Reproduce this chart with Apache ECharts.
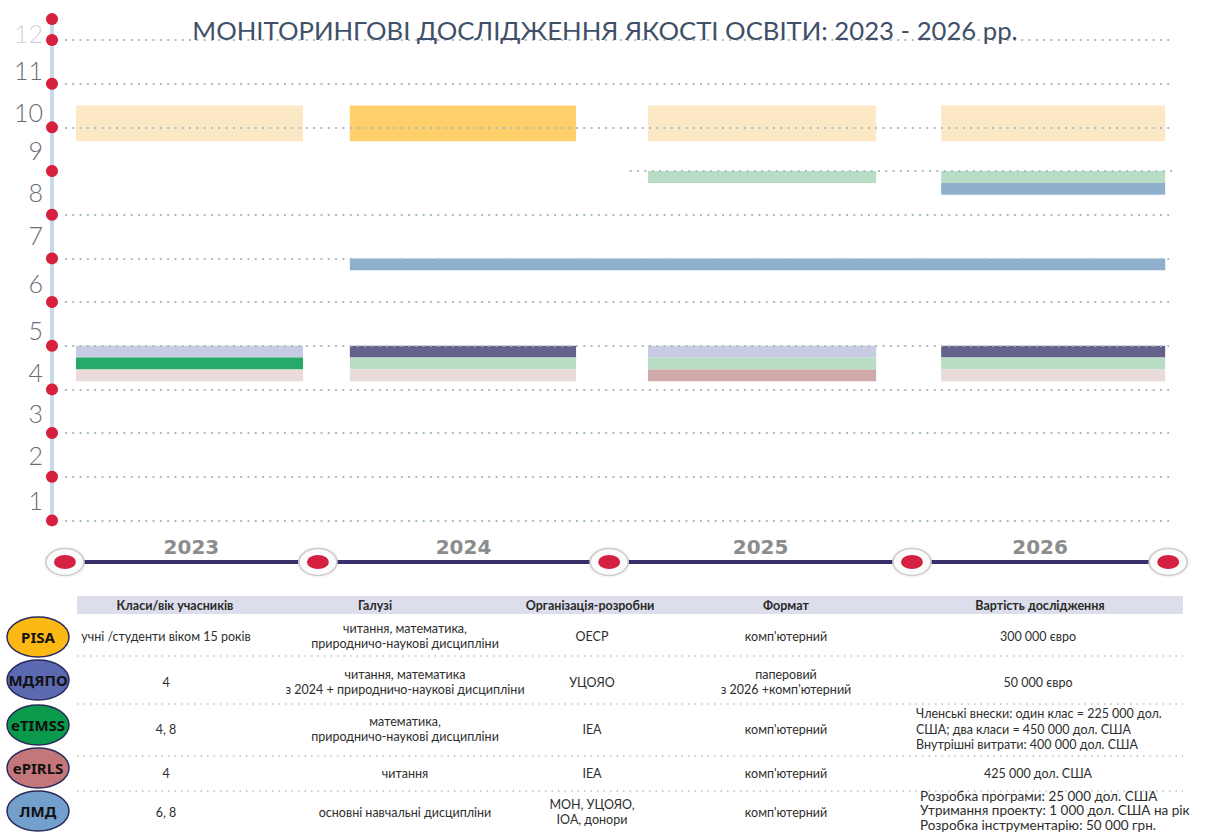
<!DOCTYPE html>
<html><head><meta charset="utf-8">
<script src="https://cdn.jsdelivr.net/npm/echarts@6/dist/echarts.min.js"></script>
<style>html,body{margin:0;padding:0;background:#fff}#c{width:1210px;height:834px}</style>
</head><body><div id="c"></div>
<script>
// ---------------- DATA ----------------
const TITLE = 'МОНІТОРИНГОВІ ДОСЛІДЖЕННЯ ЯКОСТІ ОСВІТИ: 2023 - 2026 рр.';
const years = ['2023', '2024', '2025', '2026'];
// assessment period in each year (fractional years)
const periodStart = [2023.04, 2024.034, 2025.116, 2026.18];
const periodEnd   = [2023.864, 2024.855, 2025.944, 2026.993];
// year boundaries on the timeline as drawn
const milestones = [2023.0, 2023.918, 2024.975, 2026.074, 2027.004];

const gradeLabels   = ['1', '2', '3', '4', '5', '6', '7', '8', '9', '10', '11', '12'];
const gradeLabelPos = [0.46, 1.5, 2.46, 3.4, 4.36, 5.44, 6.54, 7.52, 8.48, 9.35, 10.31, 11.16];
const gridLevels    = [0, 1, 2, 3, 4, 5, 6, 7, 8, 9, 10, 11];
const gridFrom      = [2023, 2023, 2023, 2023, 2023, 2023, 2023, 2023, 2025.05, 2023, 2023, 2023];
const axisDots      = [0, 1, 2, 3, 4, 5, 6, 7, 8, 9, 10, 11, 11.48];

const studies = ['PISA', 'МДЯПО', 'eTIMSS', 'ePIRLS', 'ЛМД'];
// phase per year: 2 = conducted, 1 = preparation / other, 0 = none
const pisaGrade     = 9.5;             // 15-year-olds
const pisaPhase     = [1, 2, 1, 1];
const mdyapoPhase   = [1, 2, 1, 2];    // grade 4
const etimss4Phase  = [2, 1, 1, 1];    // grade 4
const etimss8Phase  = [0, 0, 1, 1];    // grade 8
const epirlsPhase   = [1, 1, 2, 1];    // grade 4
const lmd8Phase     = [0, 0, 0, 2];    // grade 8
const lmd6From = '2024', lmd6To = '2026'; // grade 6, continuous

// table
const tableHeaders = ['Класи/вік учасників', 'Галузі', 'Організація-розробни', 'Формат', 'Вартість дослідження'];
const colGrades = ['учні /студенти віком 15 років', '4', '4, 8', '4', '6, 8'];
const colFields = [
  'читання, математика,\nприродничо-наукові дисципліни',
  'читання, математика\nз 2024 + природничо-наукові дисципліни',
  'математика,\nприродничо-наукові дисципліни',
  'читання',
  'основні навчальні дисципліни'
];
const colOrgs = ['ОЕСР', 'УЦОЯО', 'IEA', 'IEA', 'МОН, УЦОЯО,\nІОА, донори'];
const colFormat = ['комп\'ютерний', 'паперовий\nз 2026 +комп\'ютерний', 'комп\'ютерний', 'комп\'ютерний', 'комп\'ютерний'];
const colCost = [
  '300 000 євро',
  '50 000 євро',
  'Членські внески: один клас = 225 000 дол.\nСША; два класи = 450 000 дол. США\nВнутрішні витрати: 400 000 дол. США',
  '425 000 дол. США',
  'Розробка програми: 25 000 дол. США\nУтримання проекту: 1 000 дол. США на рік\nРозробка інструментарію: 50 000 грн.'
];

// ---------------- STYLE ----------------
const strong = { 'PISA': '#fecf6a', 'МДЯПО': '#64618a', 'eTIMSS': '#27a96a', 'ePIRLS': '#cfa8a9', 'ЛМД': '#8fb0cd' };
const light  = { 'PISA': '#fde8c5', 'МДЯПО': '#c8cbe4', 'eTIMSS': '#b9dcc5', 'ePIRLS': '#ebdada', 'ЛМД': '#c9d9e8' };
const badge  = { 'PISA': '#fdb913', 'МДЯПО': '#5b69b1', 'eTIMSS': '#0a9a4b', 'ePIRLS': '#c4777a', 'ЛМД': '#729fcb' };
const FONT = 'Lato, "Open Sans", sans-serif';
const X_MIN = 2022.953, X_MAX = 2027.025;
const SLOT = 0.272;

// ---------------- BUILD ----------------
const barItems = [];
function addRow(study, grade, slot, span, phases) {
  phases.forEach((ph, i) => {
    if (!ph) return;
    barItems.push({
      value: [periodStart[i], periodEnd[i], grade - slot * SLOT, grade - (slot + span) * SLOT],
      itemStyle: { color: ph === 2 ? strong[study] : light[study] }
    });
  });
}
addRow('PISA', pisaGrade, 0, 3, pisaPhase);
addRow('МДЯПО', 4, 0, 1, mdyapoPhase);
addRow('eTIMSS', 4, 1, 1, etimss4Phase);
addRow('ePIRLS', 4, 2, 1, epirlsPhase);
addRow('eTIMSS', 8, 0, 1, etimss8Phase);
addRow('ЛМД', 8, 1, 1, lmd8Phase);
barItems.push({
  value: [periodStart[years.indexOf(lmd6From)], periodEnd[years.indexOf(lmd6To)], 6, 6 - SLOT],
  itemStyle: { color: strong['ЛМД'] }
});

function renderBar(params, api) {
  const p0 = api.coord([api.value(0), api.value(2)]);
  const p1 = api.coord([api.value(1), api.value(3)]);
  return {
    type: 'rect',
    shape: { x: p0[0], y: p0[1], width: p1[0] - p0[0], height: p1[1] - p0[1] },
    style: { fill: api.visual('color') }
  };
}

function renderGradeLabel(params, api) {
  const p = api.coord([X_MIN, api.value(1)]);
  const txt = gradeLabels[params.dataIndex];
  return {
    type: 'text', x: p[0] - 9, y: p[1],
    style: {
      text: txt, fill: txt === '12' ? '#d2d3dd' : '#6b6c74',
      fontSize: 25, fontFamily: FONT, fontWeight: 300,
      align: 'right', verticalAlign: 'middle'
    }
  };
}

const yearMid = years.map((y, i) => [(milestones[i] + milestones[i + 1]) / 2, 0.5]);
function renderYear(params, api) {
  const p = api.coord([api.value(0), api.value(1)]);
  return {
    type: 'text', x: p[0], y: p[1] - 15,
    style: {
      text: years[params.dataIndex], fill: '#8c8c8c',
      fontSize: 20, fontWeight: 'bold', fontFamily: '"DejaVu Sans", sans-serif',
      align: 'center', verticalAlign: 'middle'
    }
  };
}

const ELLIPSE = 'path://M0,10A10,10,0,1,1,20,10A10,10,0,1,1,0,10Z';

// ---------------- TABLE (graphic) ----------------
const colX = [166, 405, 592, 786, 1038];
const headerX = [175, 375, 590, 786, 1040];
const rowY = [636, 682, 729, 773, 812];
const badgeY = [637, 680, 725, 768, 811];
const sepY = [656, 704, 756, 791];
const graphics = [];
graphics.push({ type: 'rect', shape: { x: 77, y: 596, width: 1106, height: 18 }, style: { fill: '#dcdfeb' }, silent: true });
tableHeaders.forEach((h, i) => graphics.push({
  type: 'text', x: headerX[i], y: 605,
  style: { text: h, fill: '#2a2a2a', fontSize: 12.5, fontWeight: 'bold', fontFamily: FONT, align: 'center', verticalAlign: 'middle' }
}));
sepY.forEach(y => graphics.push({
  type: 'line', shape: { x1: 77, y1: y, x2: 1183, y2: y },
  style: { stroke: '#b3c3c6', lineWidth: 1.5, lineDash: [1.5, 5] }
}));
const cols = [colGrades, colFields, colOrgs, colFormat, colCost];
cols.forEach((col, ci) => col.forEach((t, ri) => {
  const multi = ci === 4 && t.split('\n').length > 2;
  const big = multi && ri === col.length - 1;
  graphics.push({
    type: 'text', x: multi ? (big ? 920 : 916) : colX[ci], y: rowY[ri] + (big ? -2 : 0),
    style: {
      text: t, fill: '#2e2e2e', fontSize: big ? 13.5 : 12.5, fontFamily: FONT, lineHeight: big ? 14.5 : 15.5,
      align: multi ? 'left' : 'center', verticalAlign: 'middle'
    }
  });
}));
studies.forEach((s, i) => {
  graphics.push({
    type: 'ellipse', shape: { cx: 38, cy: badgeY[i], rx: 31, ry: 20 },
    style: { fill: badge[s], stroke: '#2b2a5c', lineWidth: 1.5 }
  });
  graphics.push({
    type: 'text', x: 38, y: badgeY[i],
    style: { text: s, fill: '#111', fontSize: 15, fontWeight: 'bold', fontFamily: '"Noto Sans", sans-serif', align: 'center', verticalAlign: 'middle' }
  });
});

// ---------------- OPTION ----------------
const option = {
  animation: false,
  backgroundColor: '#ffffff',
  textStyle: { fontFamily: FONT },
  title: {
    text: TITLE, left: 'center', top: 12,
    textStyle: { color: '#3f5068', fontSize: 25.7, fontWeight: 'normal', fontFamily: FONT }
  },
  grid: [
    { left: 52, right: 36, top: 18.2, bottom: 313.6 },
    { left: 52, right: 36, top: 532, height: 60 }
  ],
  xAxis: [
    { type: 'value', gridIndex: 0, min: X_MIN, max: X_MAX, show: false },
    { type: 'value', gridIndex: 1, min: X_MIN, max: X_MAX, show: false }
  ],
  yAxis: [
    {
      type: 'value', gridIndex: 0, min: 0, max: 11.5,
      axisLine: { show: true, lineStyle: { color: '#c8d8ee', width: 4 } },
      axisTick: { show: false }, axisLabel: { show: false }, splitLine: { show: false }
    },
    { type: 'value', gridIndex: 1, min: 0, max: 1, show: false }
  ],
  series: [
    {
      type: 'custom', name: 'bars', xAxisIndex: 0, yAxisIndex: 0,
      renderItem: renderBar, data: barItems, z: 2,
      markLine: {
        silent: true, symbol: ['none', 'none'], label: { show: false }, z: 5,
        lineStyle: { color: '#a9bec2', width: 2, type: [2, 5.3] },
        data: gridLevels.map((lv, i) => [{ coord: [gridFrom[i], lv] }, { coord: [X_MAX, lv] }])
      }
    },
    {
      type: 'scatter', name: 'axisDots', xAxisIndex: 0, yAxisIndex: 0,
      data: axisDots.map(v => [X_MIN, v]), symbolSize: 12, clip: false, z: 6,
      itemStyle: { color: '#d6203e', opacity: 1 }, silent: true
    },
    {
      type: 'custom', name: 'gradeLabels', xAxisIndex: 0, yAxisIndex: 0,
      renderItem: renderGradeLabel, data: gradeLabelPos.map(v => [X_MIN, v]), clip: false, silent: true
    },
    {
      type: 'line', name: 'timeline', xAxisIndex: 1, yAxisIndex: 1,
      data: milestones.map(m => [m, 0.5]), symbol: 'none', silent: true,
      lineStyle: { color: '#3a2e6b', width: 4 }, z: 2
    },
    {
      type: 'scatter', name: 'mileOuter', xAxisIndex: 1, yAxisIndex: 1,
      data: milestones.map(m => [m, 0.5]), symbol: ELLIPSE, symbolSize: [38, 27], clip: false, z: 3, silent: true,
      itemStyle: { color: '#fcfcfc', opacity: 1, borderColor: '#cdcdcd', borderWidth: 1.5, shadowColor: 'rgba(0,0,0,0.12)', shadowBlur: 3 }
    },
    {
      type: 'scatter', name: 'mileInner', xAxisIndex: 1, yAxisIndex: 1,
      data: milestones.map(m => [m, 0.5]), symbol: ELLIPSE, symbolSize: [22, 14], clip: false, z: 4, silent: true,
      itemStyle: { color: '#d42041', opacity: 1 }
    },
    {
      type: 'custom', name: 'years', xAxisIndex: 1, yAxisIndex: 1,
      renderItem: renderYear, data: yearMid, clip: false, silent: true
    }
  ],
  graphic: graphics
};

const chart = echarts.init(document.getElementById('c'), null, { renderer: 'svg' });
chart.setOption(option);
</script>
</body></html>
